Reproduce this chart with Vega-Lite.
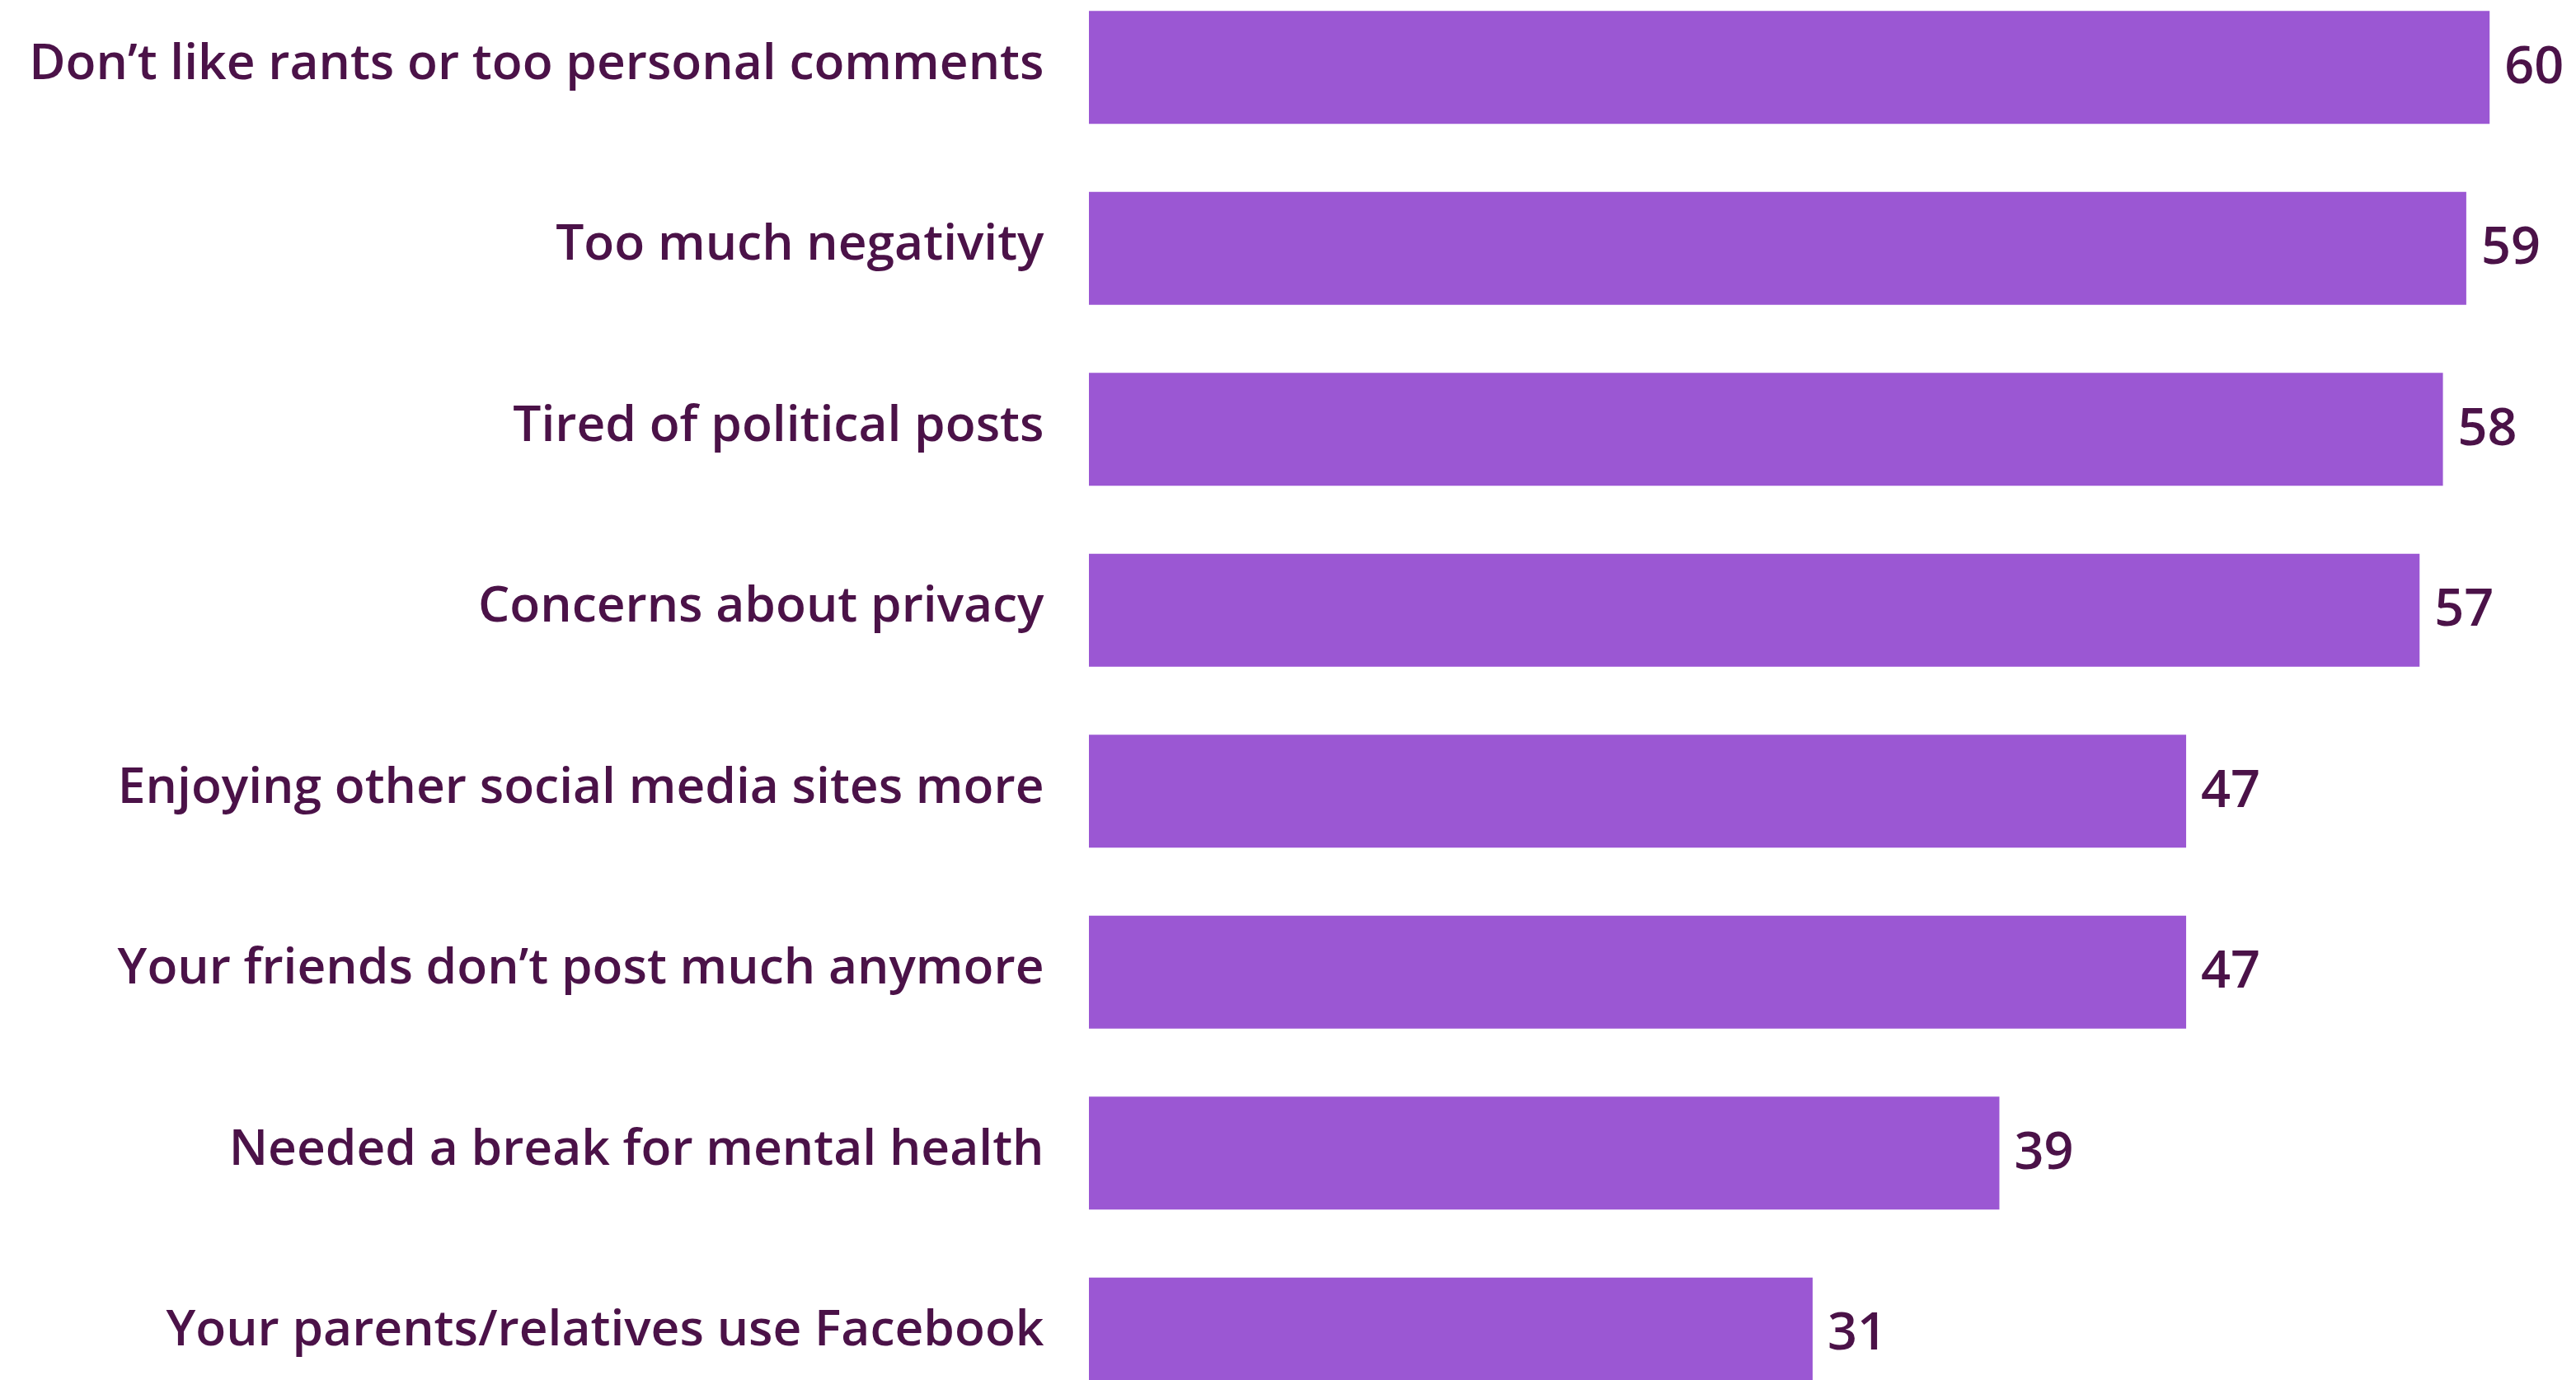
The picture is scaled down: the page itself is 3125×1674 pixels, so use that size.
{
  "$schema": "https://vega.github.io/schema/vega-lite/v6.json",
  "autosize": "none",
  "padding": {"left": 1321, "top": 0, "right": 0, "bottom": 0},
  "width": 1804,
  "height": 1700,
  "background": "white",
  "config": {"view": {"stroke": null}},
  "data": {"values": [
    {"reason": "Don’t like rants or too personal comments", "pct": 60},
    {"reason": "Too much negativity", "pct": 59},
    {"reason": "Tired of political posts", "pct": 58},
    {"reason": "Concerns about privacy", "pct": 57},
    {"reason": "Enjoying other social media sites more", "pct": 47},
    {"reason": "Your friends don’t post much anymore", "pct": 47},
    {"reason": "Needed a break for mental health", "pct": 39},
    {"reason": "Your parents/relatives use Facebook", "pct": 31}
  ]},
  "encoding": {
    "y": {"field": "reason", "type": "nominal", "sort": null,
      "scale": {"paddingInner": 0.376, "paddingOuter": 0.06},
      "axis": {"title": null, "domain": false, "ticks": false, "grid": false,
        "labelFont": "Open Sans", "labelFontWeight": 600, "labelFontSize": 60.5,
        "labelColor": "#4B1248", "labelPadding": 55, "labelLimit": 1400, "labelOffset": -4}},
    "x": {"field": "pct", "type": "quantitative",
      "scale": {"domain": [0, 63.7], "nice": false, "zero": true},
      "axis": null}
  },
  "layer": [
    {"mark": {"type": "bar", "color": "#9B57D3"}},
    {"mark": {"type": "text", "align": "left", "baseline": "middle", "dx": 18,
      "font": "Open Sans", "fontWeight": 600, "fontSize": 63, "color": "#4B1248"},
     "encoding": {"text": {"field": "pct", "type": "quantitative"}}}
  ]
}
